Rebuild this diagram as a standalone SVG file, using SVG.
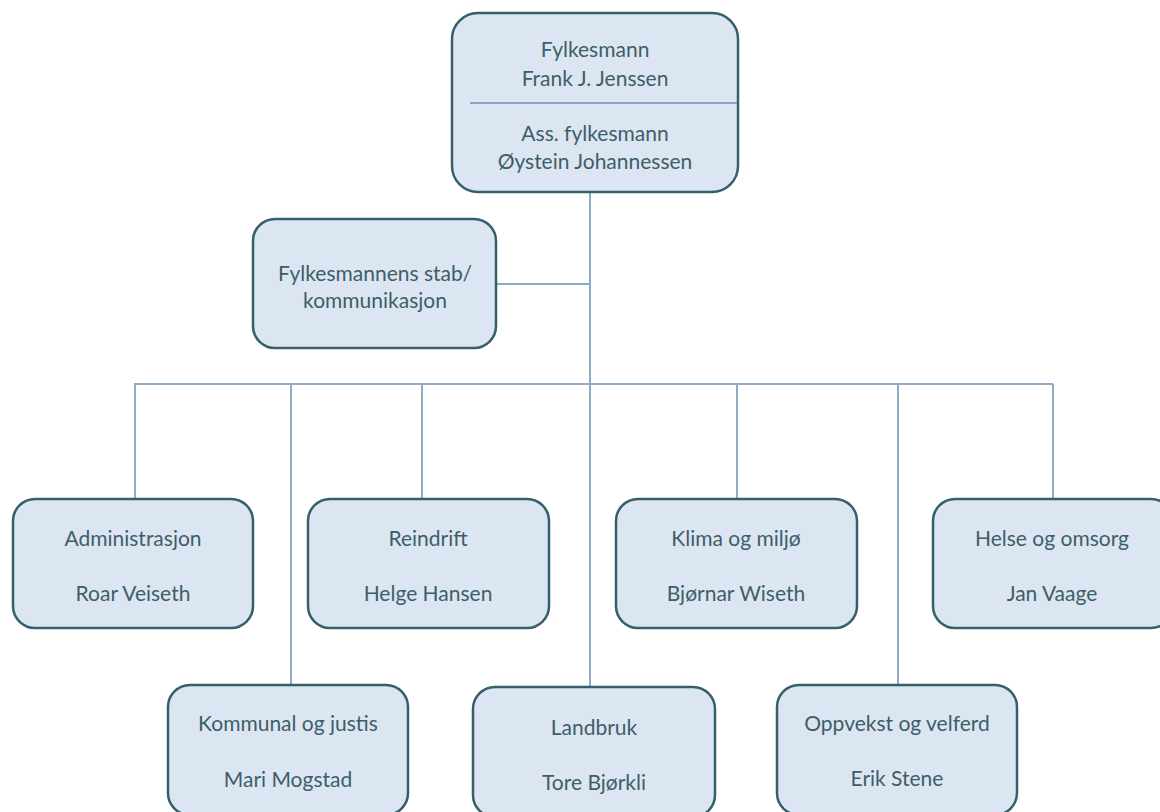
<svg xmlns="http://www.w3.org/2000/svg" width="1160" height="812" viewBox="0 0 1160 812">
<style>
.box{fill:#dce6f2;stroke:#35606b;stroke-width:2.5}
.t{font-family:Lato,"Noto Sans","DejaVu Sans",sans-serif;font-size:21px;fill:#3d5e68;text-anchor:middle;dominant-baseline:central}
.c{stroke:#8fabc8;stroke-width:2;fill:none}
</style>
<rect width="1160" height="812" fill="#ffffff"/>
<g id="connectors">
<line class="c" x1="590" y1="192" x2="590" y2="687"/>
<line class="c" x1="496" y1="284" x2="590" y2="284"/>
<line class="c" x1="134" y1="384" x2="1053" y2="384"/>
<line class="c" x1="135" y1="384" x2="135" y2="499"/>
<line class="c" x1="291" y1="384" x2="291" y2="685"/>
<line class="c" x1="422" y1="384" x2="422" y2="499"/>
<line class="c" x1="737" y1="384" x2="737" y2="499"/>
<line class="c" x1="898" y1="384" x2="898" y2="685"/>
<line class="c" x1="1053" y1="384" x2="1053" y2="499"/>
</g>
<g id="fylkesmann">
<rect class="box" x="452" y="13" width="286" height="179" rx="26"/>
<line x1="470" y1="103" x2="737" y2="103" stroke="#6f8fb0" stroke-width="1.5"/>
<text class="t" x="595" y="48">Fylkesmann</text>
<text class="t" x="595" y="77">Frank J. Jenssen</text>
<text class="t" x="595" y="132">Ass. fylkesmann</text>
<text class="t" x="595" y="160">Øystein Johannessen</text>
</g>
<g id="stab">
<rect class="box" x="253" y="219" width="243" height="129" rx="22"/>
<text class="t" x="375" y="272">Fylkesmannens stab/</text>
<text class="t" x="375" y="299">kommunikasjon</text>
</g>
<g id="administrasjon">
<rect class="box" x="13" y="499" width="240" height="129" rx="22"/>
<text class="t" x="133" y="537">Administrasjon</text>
<text class="t" x="133" y="592">Roar Veiseth</text>
</g>
<g id="reindrift">
<rect class="box" x="308" y="499" width="241" height="129" rx="22"/>
<text class="t" x="428" y="537">Reindrift</text>
<text class="t" x="428" y="592">Helge Hansen</text>
</g>
<g id="klima">
<rect class="box" x="616" y="499" width="241" height="129" rx="22"/>
<text class="t" x="736" y="537">Klima og miljø</text>
<text class="t" x="736" y="592">Bjørnar Wiseth</text>
</g>
<g id="helse">
<rect class="box" x="933" y="499" width="240" height="129" rx="22"/>
<text class="t" x="1052" y="537">Helse og omsorg</text>
<text class="t" x="1052" y="592">Jan Vaage</text>
</g>
<g id="kommunal">
<rect class="box" x="168" y="685" width="240" height="130" rx="22"/>
<text class="t" x="288" y="722">Kommunal og justis</text>
<text class="t" x="288" y="778">Mari Mogstad</text>
</g>
<g id="landbruk">
<rect class="box" x="473" y="687" width="242" height="130" rx="22"/>
<text class="t" x="594" y="726">Landbruk</text>
<text class="t" x="594" y="781">Tore Bjørkli</text>
</g>
<g id="oppvekst">
<rect class="box" x="777" y="685" width="240" height="130" rx="22"/>
<text class="t" x="897" y="722">Oppvekst og velferd</text>
<text class="t" x="897" y="777">Erik Stene</text>
</g>
</svg>
